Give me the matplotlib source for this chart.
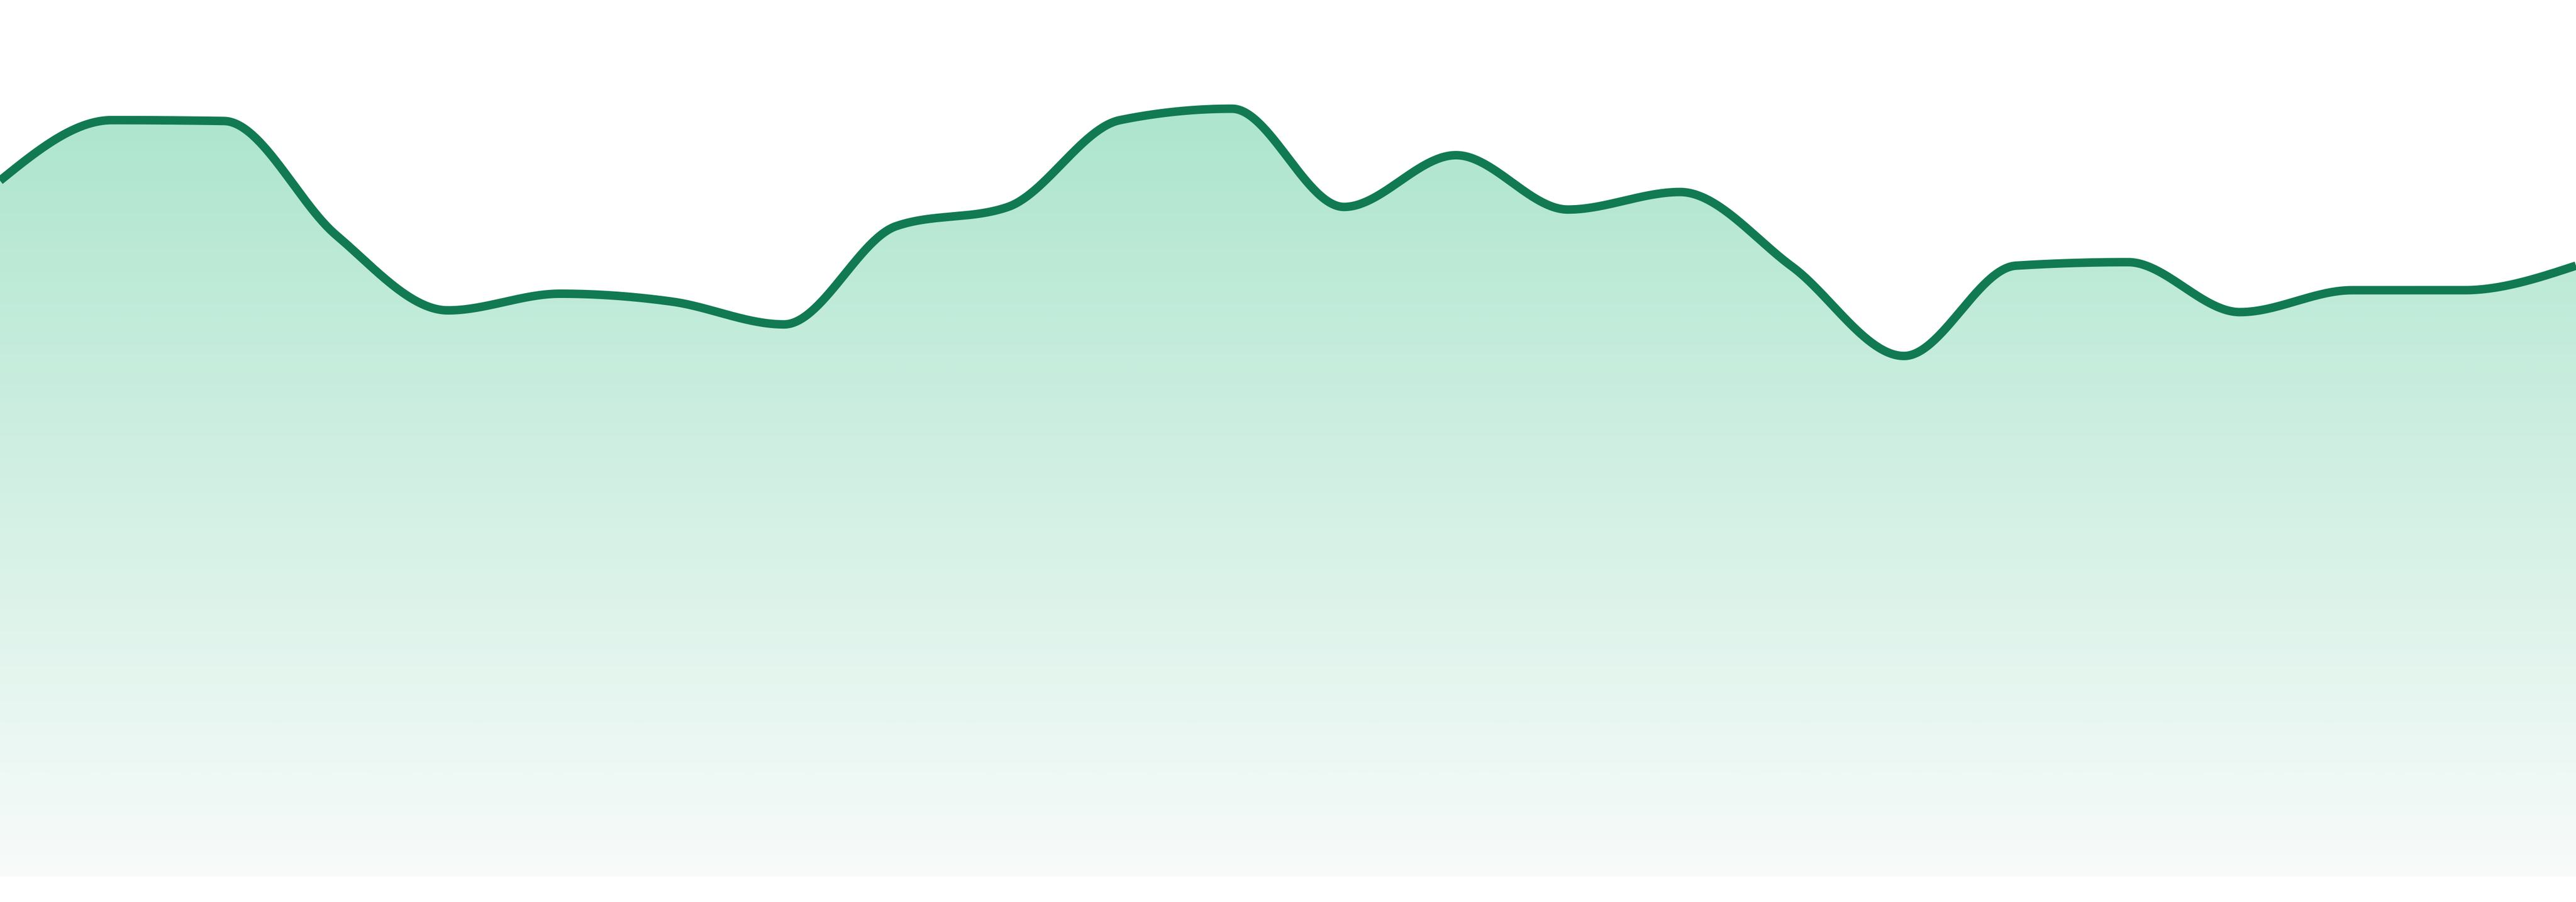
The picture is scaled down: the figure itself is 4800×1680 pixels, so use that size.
import matplotlib
matplotlib.use('Agg')
import matplotlib.pyplot as plt
import numpy as np
from matplotlib.colors import LinearSegmentedColormap
from matplotlib.patches import PathPatch
from matplotlib.path import Path

# значения (24 точки, равный шаг)
points = list(range(24))
values = [79.4, 86.3, 86.2, 73.2, 64.6, 66.5, 65.6, 63.0, 74.2, 76.4, 86.3, 87.6,
          76.4, 82.3, 76.1, 78.1, 69.6, 59.4, 69.7, 70.1, 64.4, 66.9, 66.9, 69.7]

line_color = '#117a52'
fill_top = '#ade5ce'
fill_bottom = '#f8fbfa'


def sign(v):
    return -1.0 if v < 0 else 1.0


def monotone_tangents(x, y):
    # как curveMonotoneX в d3
    n = len(x)
    t = [0.0] * n
    for i in range(1, n - 1):
        h0 = x[i] - x[i - 1]
        h1 = x[i + 1] - x[i]
        s0 = (y[i] - y[i - 1]) / h0
        s1 = (y[i + 1] - y[i]) / h1
        p = (s0 * h1 + s1 * h0) / (h0 + h1)
        t[i] = (sign(s0) + sign(s1)) * min(abs(s0), abs(s1), 0.5 * abs(p))
    h = x[1] - x[0]
    t[0] = (3 * (y[1] - y[0]) / h - t[1]) / 2
    h = x[-1] - x[-2]
    t[-1] = (3 * (y[-1] - y[-2]) / h - t[-2]) / 2
    return t


def monotone_curve(x, y, steps=60):
    t = monotone_tangents(x, y)
    xs, ys = [x[0]], [y[0]]
    for i in range(len(x) - 1):
        dx = (x[i + 1] - x[i]) / 3
        p0 = np.array([x[i], y[i]])
        p1 = np.array([x[i] + dx, y[i] + dx * t[i]])
        p2 = np.array([x[i + 1] - dx, y[i + 1] - dx * t[i + 1]])
        p3 = np.array([x[i + 1], y[i + 1]])
        u = np.linspace(0, 1, steps)[1:, None]
        pts = ((1 - u) ** 3) * p0 + 3 * ((1 - u) ** 2) * u * p1 + 3 * (1 - u) * u ** 2 * p2 + u ** 3 * p3
        xs.extend(pts[:, 0])
        ys.extend(pts[:, 1])
    return np.array(xs), np.array(ys)


def main():
    cx, cy = monotone_curve(points, values)

    fig = plt.figure(figsize=(16, 5.6), dpi=300)
    ax = fig.add_axes([0, 47 / 1680, 1, 1633 / 1680])
    ax.set_xlim(points[0], points[-1])
    ax.set_ylim(0, 100)
    ax.axis('off')

    # градиентная заливка под линией
    cmap = LinearSegmentedColormap.from_list('grad', [fill_bottom, fill_top])
    grad = np.linspace(0, 1, 512).reshape(-1, 1)
    top = max(values)
    img = ax.imshow(grad, cmap=cmap, aspect='auto', origin='lower',
                    extent=[points[0], points[-1], 0, top], zorder=1)
    verts = np.vstack([np.column_stack([cx, cy]),
                       [[points[-1], 0], [points[0], 0], [cx[0], cy[0]]]])
    codes = [Path.MOVETO] + [Path.LINETO] * (len(verts) - 2) + [Path.CLOSEPOLY]
    clip = PathPatch(Path(verts, codes), transform=ax.transData, facecolor='none', edgecolor='none')
    ax.add_patch(clip)
    img.set_clip_path(clip)

    ax.plot(cx, cy, color=line_color, linewidth=3.8, solid_capstyle='butt', zorder=3)

    fig.savefig('out.png', dpi=300)


if __name__ == '__main__':
    main()
